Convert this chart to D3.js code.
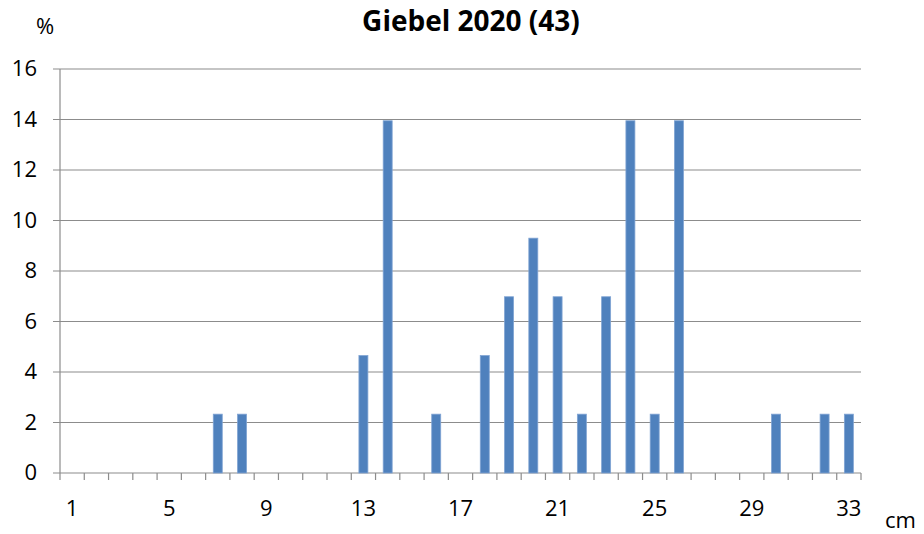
<!DOCTYPE html>
<html>
<head>
<meta charset="UTF-8">
<title>Giebel 2020 (43)</title>
<script src="https://cdn.jsdelivr.net/npm/d3@7"></script>
<style>
  body { margin: 0; background: #fff; }
  svg { display: block; }
  text { font-family: "Open Sans", "Liberation Sans", sans-serif; fill: #000; }
</style>
</head>
<body>
<div id="chart"></div>
<script>
// Längenklassen (cm) und Anteil in %
var lengths = d3.range(1, 34);
var percents = [0, 0, 0, 0, 0, 0, 2.33, 2.33, 0, 0, 0, 0, 4.65, 13.95, 0, 2.33, 0, 4.65, 6.98, 9.30,
                6.98, 2.33, 6.98, 13.95, 2.33, 13.95, 0, 0, 0, 2.33, 0, 2.33, 2.33];
var xLabels = [1, 5, 9, 13, 17, 21, 25, 29, 33];
var yTicks = [0, 2, 4, 6, 8, 10, 12, 14, 16];

var W = 924, H = 534;
var m = { left: 60, right: 861, top: 69, bottom: 473 };

var svg = d3.select("#chart").append("svg")
  .attr("width", W).attr("height", H);

var x = d3.scaleBand()
  .domain(lengths)
  .range([m.left, m.right])
  .paddingInner(0.63)
  .paddingOuter(0.315);

var y = d3.scaleLinear()
  .domain([0, 16])
  .range([m.bottom, m.top]);

// Gitterlinien
svg.append("g").selectAll("line")
  .data(yTicks)
  .enter().append("line")
  .attr("x1", m.left - 7).attr("x2", m.right)
  .attr("y1", function(d){ return y(d); })
  .attr("y2", function(d){ return y(d); })
  .attr("stroke", "#8c8c8c").attr("stroke-width", 1.2);

// y-Achse
svg.append("line")
  .attr("x1", m.left).attr("x2", m.left)
  .attr("y1", m.top).attr("y2", m.bottom)
  .attr("stroke", "#8c8c8c").attr("stroke-width", 1.2);

var yAxis = svg.append("g")
  .attr("transform", "translate(" + (m.left - 23) + ",0)")
  .call(d3.axisLeft(y).tickValues(yTicks).tickSize(0).tickPadding(0));
yAxis.select(".domain").remove();
yAxis.selectAll("text").style("font-size", "22px").attr("dy", "0.3em");

// Balken
svg.append("g").selectAll("rect")
  .data(percents)
  .enter().append("rect")
  .attr("x", function(d, i){ return x(lengths[i]); })
  .attr("y", function(d){ return y(d); })
  .attr("width", x.bandwidth())
  .attr("height", function(d){ return y(0) - y(d); })
  .attr("fill", function(d){ return d > 0 ? "#4f81bd" : "none"; })
  .attr("stroke", function(d){ return d > 0 ? "#7fa3d3" : "none"; })
  .attr("stroke-width", 0.8);

// x-Achse: Striche zwischen den Klassen
var bounds = lengths.map(function(c){ return x(c) - x.step() * x.paddingInner() / 2; });
bounds.push(m.right);
svg.append("g").selectAll("line")
  .data(bounds)
  .enter().append("line")
  .attr("x1", function(d){ return d; }).attr("x2", function(d){ return d; })
  .attr("y1", m.bottom).attr("y2", m.bottom + 7)
  .attr("stroke", "#8c8c8c").attr("stroke-width", 1.2);

var xAxis = svg.append("g")
  .attr("transform", "translate(0," + m.bottom + ")")
  .call(d3.axisBottom(x).tickValues(xLabels).tickSize(0).tickPadding(27));
xAxis.select(".domain").remove();
xAxis.selectAll("text").style("font-size", "22px");

// Beschriftungen
svg.append("text")
  .attr("x", 471).attr("y", 31)
  .attr("text-anchor", "middle")
  .style("font-size", "28px").style("font-weight", "bold")
  .text("Giebel 2020 (43)");

svg.append("text")
  .attr("x", 36).attr("y", 34)
  .style("font-size", "22px")
  .text("%");

svg.append("text")
  .attr("x", 885).attr("y", 528)
  .style("font-size", "22px")
  .text("cm");
</script>
</body>
</html>
